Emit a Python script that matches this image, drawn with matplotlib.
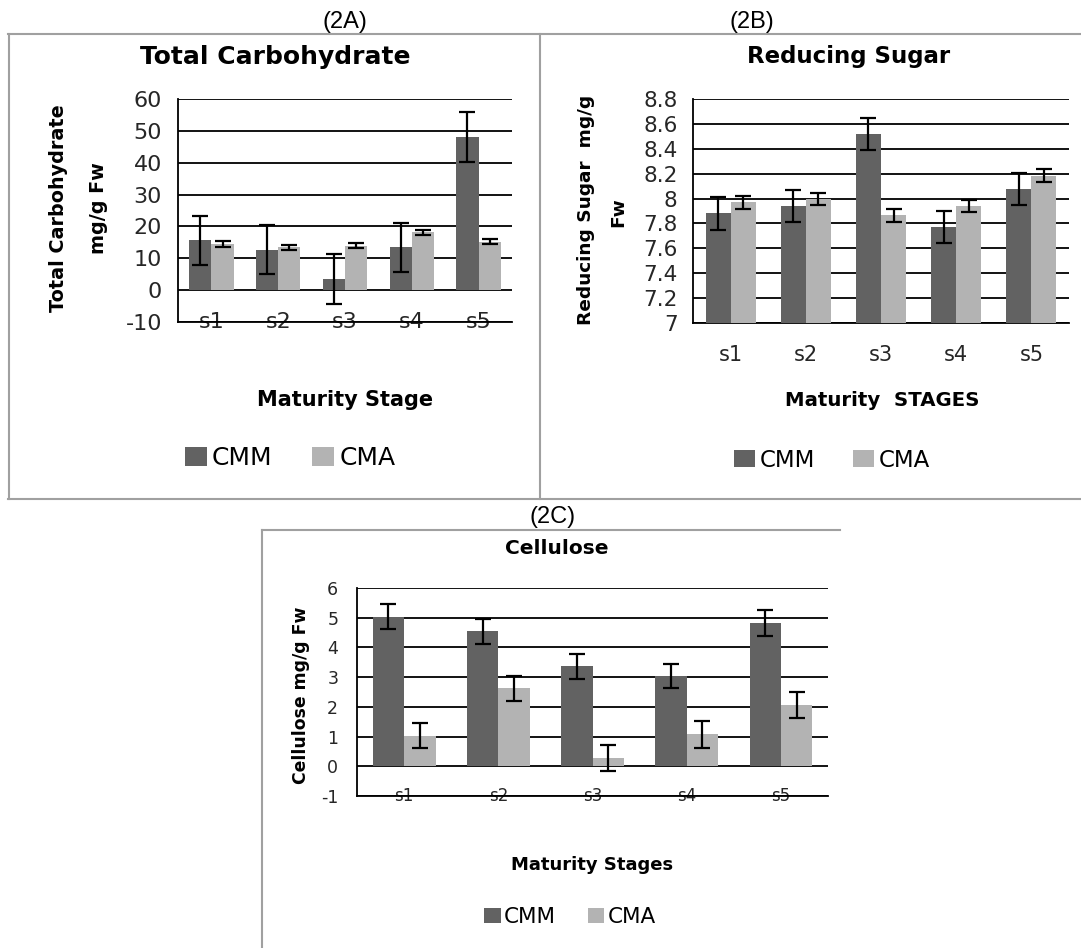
import matplotlib
matplotlib.use("Agg")
import matplotlib.pyplot as plt
from matplotlib.lines import Line2D
import numpy as np

# ---------------------------------------------------------------------------
# Data
# ---------------------------------------------------------------------------
stages = ["s1", "s2", "s3", "s4", "s5"]

carb_cmm = [15.6, 12.7, 3.5, 13.4, 48.1]
carb_cmm_err = [7.7, 7.7, 7.7, 7.7, 7.8]
carb_cma = [14.4, 13.5, 14.0, 18.2, 15.2]
carb_cma_err = [0.9, 0.8, 0.8, 0.8, 0.8]

sugar_cmm = [7.88, 7.94, 8.52, 7.77, 8.075]
sugar_cmm_err = [0.13, 0.13, 0.13, 0.13, 0.13]
sugar_cma = [7.97, 7.995, 7.865, 7.94, 8.185]
sugar_cma_err = [0.05, 0.05, 0.055, 0.05, 0.05]

cell_cmm = [5.03, 4.55, 3.36, 3.04, 4.82]
cell_cmm_err = [0.42, 0.42, 0.42, 0.40, 0.43]
cell_cma = [1.03, 2.63, 0.28, 1.07, 2.07]
cell_cma_err = [0.42, 0.42, 0.43, 0.44, 0.43]

DARK = "#626262"
LIGHT = "#b3b3b3"
BORDER = "#a0a0a0"
FONT = "DejaVu Sans"

W, H = 1081, 948
fig = plt.figure(figsize=(W / 100, H / 100), dpi=100)


def fx(x):
    return x / W


def fy(y):
    return 1 - y / H


def add_ax(x0, y0, x1, y1):
    return fig.add_axes([x0 / W, 1 - y1 / H, (x1 - x0) / W, (y1 - y0) / H])


def text(x, y, s, size, bold=False, rot=0, family=FONT):
    fig.text(fx(x), fy(y), s, fontsize=size, ha="center", va="center",
             rotation=rot, family=family, color="black",
             fontweight="bold" if bold else "normal")


def bar_panel(ax, cmm, cmm_err, cma, cma_err, ylim, step, ysize, xsize,
              ypad, xpad, labels_on_axis, capsize):
    x = np.arange(len(stages))
    w = 1 / 3
    ekw = dict(elinewidth=1.6, capthick=1.6, ecolor="black")
    b1 = ax.bar(x - w / 2, cmm, w, yerr=cmm_err, color=DARK, capsize=capsize,
                error_kw=ekw, zorder=3, label="CMM")
    b2 = ax.bar(x + w / 2, cma, w, yerr=cma_err, color=LIGHT, capsize=capsize,
                error_kw=ekw, zorder=3, label="CMA")
    ax.set_xlim(-0.5, len(stages) - 0.5)
    ax.set_ylim(*ylim)
    ticks = np.arange(ylim[0], ylim[1] + step / 2, step)
    ax.set_yticks(ticks)
    ax.set_yticklabels([f"{round(v, 1):g}" for v in ticks])
    for t in ticks:
        ax.axhline(t, color="black", lw=1.3, zorder=2)
    ax.set_xticks(x)
    ax.set_xticklabels(stages)
    for sp in ["top", "right"]:
        ax.spines[sp].set_visible(False)
    ax.spines["left"].set_linewidth(1.3)
    ax.spines["bottom"].set_linewidth(1.3)
    ax.tick_params(axis="both", length=0)
    ax.tick_params(axis="y", pad=ypad, labelsize=ysize)
    ax.tick_params(axis="x", pad=xpad, labelsize=xsize)
    for lab in ax.get_xticklabels() + ax.get_yticklabels():
        lab.set_family(FONT)
        lab.set_color("#262626")
    if labels_on_axis:
        for lab in ax.get_xticklabels():
            lab.set_va("center")
    return b1, b2


def legend(handles, cx, cy, size, hlen, hh, cs, tp):
    fig.legend(handles, ["CMM", "CMA"], loc="center",
               bbox_to_anchor=(fx(cx), fy(cy)), ncol=2, frameon=False,
               handlelength=hlen, handleheight=hh, handletextpad=tp,
               columnspacing=cs, borderpad=0,
               prop=dict(family=FONT, size=size))


# ---- panel A -------------------------------------------------------------
axA = add_ax(178, 99, 512, 322)
hA = bar_panel(axA, carb_cmm, carb_cmm_err, carb_cma, carb_cma_err,
               (-10, 60), 10, 16, 16, 11.5, 0, True, 5.5)
text(345, 22, "(2A)", 17, family="Liberation Sans")
text(275, 57, "Total Carbohydrate", 18, bold=True)
text(58, 208, "Total Carbohydrate", 13.8, bold=True, rot=90)
text(98, 208, "mg/g Fw", 13.8, bold=True, rot=90)
text(345, 400, "Maturity Stage", 15, bold=True)
legend(hA, 290, 458, 18, 0.88, 0.76, 1.6, 0.2)

# ---- panel B -------------------------------------------------------------
axB = add_ax(693, 99, 1069, 323)
hB = bar_panel(axB, sugar_cmm, sugar_cmm_err, sugar_cma, sugar_cma_err,
               (7.0, 8.8), 0.2, 15.5, 15, 11, 23, True, 5.5)
text(752, 22, "(2B)", 17, family="Liberation Sans")
text(849, 57, "Reducing Sugar", 16.5, bold=True)
text(586, 210, "Reducing Sugar  mg/g", 13.3, bold=True, rot=90)
text(618, 212, "Fw", 13.3, bold=True, rot=90)
text(882, 400, "Maturity  STAGES", 14.2, bold=True)
legend(hB, 832, 460, 16.5, 0.92, 0.8, 1.66, 0.2)

# ---- panel C -------------------------------------------------------------
axC = add_ax(357, 588, 828, 796)
hC = bar_panel(axC, cell_cmm, cell_cmm_err, cell_cma, cell_cma_err,
               (-1, 6), 1, 12.5, 12, 13.5, 0, True, 5.5)
text(553, 517, "(2C)", 17, family="Liberation Sans")
text(557, 548, "Cellulose", 14.5, bold=True)
text(301, 695, "Cellulose mg/g Fw", 12.4, bold=True, rot=90)
text(592, 865, "Maturity Stages", 13, bold=True)
legend(hC, 570, 917, 15.5, 0.75, 0.75, 1.5, 0.15)

# ---- panel borders -------------------------------------------------------
def hline(y, x0, x1):
    fig.add_artist(Line2D([fx(x0), fx(x1)], [fy(y), fy(y)], color=BORDER, lw=1.5))


def vline(x, y0, y1):
    fig.add_artist(Line2D([fx(x), fx(x)], [fy(y0), fy(y1)], color=BORDER, lw=1.5))


hline(34, 8, W)
hline(499, 8, W)
vline(9, 34, 499)
vline(540, 34, 499)
hline(530, 262, 840)
vline(262, 530, H)

fig.savefig("out.png", dpi=100)
